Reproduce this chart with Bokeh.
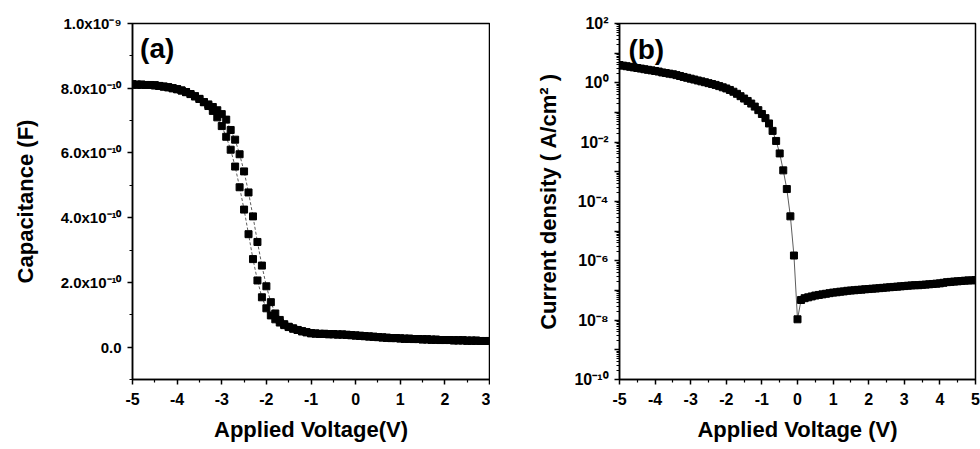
import numpy as np
from bokeh.plotting import figure
from bokeh.layouts import row
from bokeh.models import Range1d, FixedTicker, CustomJSTickFormatter, Label
from bokeh.embed import file_html
from bokeh.resources import INLINE

# ---------------- data: panel (a) C-V (capacitance in units of 1e-10 F) ----------------
volt_a = [round(-5.0 + 0.1 * i, 1) for i in range(81)]
cap_lower = [8.12, 8.11, 8.11, 8.10, 8.10, 8.09, 8.07, 8.05, 8.03, 8.00,
             7.97, 7.93, 7.88, 7.82, 7.75, 7.67, 7.57, 7.45, 7.30, 7.10,
             6.83, 6.50, 6.10, 5.58, 4.94, 4.25, 3.49, 2.72, 2.06, 1.54,
             1.20, 0.98, 0.86, 0.76, 0.68, 0.62, 0.57, 0.53, 0.49, 0.46,
             0.43, 0.42, 0.41, 0.41, 0.40, 0.40, 0.39, 0.39, 0.38, 0.37,
             0.36, 0.35, 0.34, 0.33, 0.32, 0.31, 0.30, 0.29, 0.28, 0.28,
             0.27, 0.26, 0.26, 0.25, 0.25, 0.24, 0.24, 0.23, 0.23, 0.22,
             0.22, 0.22, 0.21, 0.21, 0.21, 0.20, 0.20, 0.20, 0.19, 0.19, 0.19]
cap_upper = [8.12, 8.11, 8.11, 8.10, 8.10, 8.09, 8.07, 8.05, 8.03, 8.00,
             7.97, 7.93, 7.88, 7.82, 7.75, 7.67, 7.57, 7.50, 7.42, 7.32,
             7.20, 7.03, 6.71, 6.41, 5.96, 5.43, 4.78, 4.04, 3.25, 2.52,
             1.88, 1.39, 1.04, 0.84, 0.71, 0.63, 0.58, 0.53, 0.49, 0.46,
             0.43, 0.42, 0.41, 0.41, 0.40, 0.40, 0.39, 0.39, 0.38, 0.37,
             0.36, 0.35, 0.34, 0.33, 0.32, 0.31, 0.30, 0.29, 0.28, 0.28,
             0.27, 0.26, 0.26, 0.25, 0.25, 0.24, 0.24, 0.23, 0.23, 0.22,
             0.22, 0.22, 0.21, 0.21, 0.21, 0.20, 0.20, 0.20, 0.19, 0.19, 0.19]

# ---------------- data: panel (b) J-V (A/cm^2) ----------------
volt_b = [round(-5.0 + 0.1 * i, 1) for i in range(101)]
cur_density = [3.98, 3.80, 3.63, 3.47, 3.31, 3.16, 3.02, 2.88, 2.75, 2.63,
               2.51, 2.40, 2.24, 2.14, 2.04, 1.95, 1.82, 1.70, 1.58, 1.48,
               1.38, 1.29, 1.20, 1.12, 1.05, 0.977, 0.912, 0.851, 0.776, 0.708,
               0.646, 0.575, 0.501, 0.427, 0.355, 0.295, 0.245, 0.200, 0.158, 0.120,
               0.0891, 0.0646, 0.0427, 0.0240, 0.0110, 4.17e-3, 1.12e-3, 2.63e-4, 3.16e-5, 1.51e-6,
               1.07e-8, 4.79e-8, 5.50e-8, 5.89e-8, 6.31e-8, 6.76e-8, 7.08e-8, 7.41e-8, 7.76e-8, 8.13e-8,
               8.51e-8, 8.71e-8, 9.12e-8, 9.33e-8, 9.77e-8, 1.00e-7, 1.02e-7, 1.05e-7, 1.07e-7, 1.10e-7,
               1.12e-7, 1.15e-7, 1.17e-7, 1.20e-7, 1.23e-7, 1.26e-7, 1.29e-7, 1.32e-7, 1.35e-7, 1.38e-7,
               1.41e-7, 1.45e-7, 1.48e-7, 1.51e-7, 1.51e-7, 1.55e-7, 1.58e-7, 1.62e-7, 1.66e-7, 1.70e-7,
               1.74e-7, 1.82e-7, 1.91e-7, 1.95e-7, 2.00e-7, 2.04e-7, 2.09e-7, 2.14e-7, 2.19e-7, 2.19e-7,
               2.24e-7]

xticks_a = [-5, -4, -3, -2, -1, 0, 1, 2, 3]
yticks_a = [0.0, 2e-10, 4e-10, 6e-10, 8e-10, 1e-9]
xticks_b = [-5, -4, -3, -2, -1, 0, 1, 2, 3, 4, 5]
decades_b = list(range(-10, 3))

FONT = "Liberation Sans"

SUP_JS = """
const sup = {'-':'\u207b','0':'\u2070','1':'\u00b9','2':'\u00b2','3':'\u00b3','4':'\u2074',
             '5':'\u2075','6':'\u2076','7':'\u2077','8':'\u2078','9':'\u2079'};
function s(e) { return String(e).split('').map(c => sup[c]).join(''); }
"""

INT_FMT = CustomJSTickFormatter(code="return Math.round(tick).toString();")

def style(p):
    p.outline_line_color = "black"
    p.outline_line_width = 1.5
    p.grid.visible = False
    p.background_fill_color = "white"
    p.border_fill_color = "white"
    for ax in (p.xaxis[0], p.yaxis[0]):
        ax.axis_line_width = 1.5
        ax.axis_line_color = "black"
        ax.major_tick_line_width = 1.5
        ax.minor_tick_line_width = 1.2
        ax.major_tick_in = 0
        ax.major_tick_out = 5
        ax.minor_tick_in = 0
        ax.minor_tick_out = 3
        ax.major_label_text_font = FONT
        ax.major_label_text_font_style = "bold"
        ax.major_label_text_color = "black"
        ax.axis_label_text_font = FONT
        ax.axis_label_text_font_style = "bold"
        ax.axis_label_text_font_size = "22px"
        ax.axis_label_text_color = "black"
    p.xaxis.major_label_text_font_size = "16px"
    p.xaxis.major_label_standoff = 8
    p.xaxis.axis_label_standoff = 9
    p.xaxis.formatter = INT_FMT

# ---------------- panel (a) ----------------
pa = figure(width=490, height=449, output_backend="svg", toolbar_location=None,
            x_range=Range1d(-5, 3), y_range=Range1d(-1e-10, 1.0e-9),
            min_border_left=132, min_border_right=1, min_border_top=23, min_border_bottom=68)
style(pa)
cap_lo = np.array(cap_lower) * 1e-10
cap_up = np.array(cap_upper) * 1e-10
pa.line(volt_a, cap_lo, line_color="#333333", line_width=0.8, line_dash="3 2")
pa.line(volt_a, cap_up, line_color="#333333", line_width=0.8, line_dash="3 2")
pa.scatter(volt_a, cap_lo, marker="square", size=7, fill_color="black", line_color="black")
pa.scatter(volt_a, cap_up, marker="square", size=7, fill_color="black", line_color="black")
pa.xaxis.ticker = FixedTicker(ticks=xticks_a, minor_ticks=[v + 0.5 for v in xticks_a[:-1]])
pa.yaxis.ticker = FixedTicker(ticks=yticks_a, minor_ticks=[-1e-10, 1e-10, 3e-10, 5e-10, 7e-10, 9e-10])
pa.yaxis.formatter = CustomJSTickFormatter(code=SUP_JS + """
if (Math.abs(tick) < 1e-20) return "0.0";
const e = Math.floor(Math.log10(Math.abs(tick)) + 1e-9);
const m = tick / Math.pow(10, e);
return m.toFixed(1) + "x10" + s(e);
""")
pa.yaxis.major_label_text_font_size = "15px"
pa.yaxis.major_label_standoff = 6
pa.xaxis.axis_label = "Applied Voltage(V)"
pa.yaxis.axis_label = "Capacitance (F)"
pa.yaxis.axis_label_standoff = 20
pa.add_layout(Label(x=-4.83, y=9.72e-10, text="(a)", text_font=FONT, text_font_style="bold",
                    text_font_size="28px", text_baseline="top", text_color="black"))

# ---------------- panel (b) ----------------
pb = figure(width=490, height=449, output_backend="svg", toolbar_location=None,
            x_range=Range1d(-5, 5), y_range=Range1d(1e-10, 1e2), y_axis_type="log",
            min_border_left=129, min_border_right=5, min_border_top=22, min_border_bottom=70)
style(pb)
pb.line(volt_b, cur_density, line_color="#333333", line_width=0.8)
pb.scatter(volt_b, cur_density, marker="square", size=7, fill_color="black", line_color="black")
pb.xaxis.ticker = FixedTicker(ticks=xticks_b, minor_ticks=[v + 0.5 for v in xticks_b[:-1]])
major_b = [10.0 ** k for k in decades_b]
minor_b = [m * 10.0 ** k for k in decades_b[:-1] for m in range(2, 10)]
pb.yaxis.ticker = FixedTicker(ticks=major_b, minor_ticks=minor_b)
pb.yaxis.formatter = CustomJSTickFormatter(code=SUP_JS + """
const e = Math.round(Math.log10(tick));
if (e % 2 != 0) return "";
return "10" + s(e);
""")
pb.yaxis.major_label_text_font_size = "16px"
pb.yaxis.major_label_standoff = 6
pb.xaxis.axis_label = "Applied Voltage (V)"
pb.yaxis.axis_label = "Current density ( A/cm\u00b2 )"
pb.yaxis.axis_label_standoff = 10
pb.add_layout(Label(x=-4.75, y=45, text="(b)", text_font=FONT, text_font_style="bold",
                    text_font_size="28px", text_baseline="top", text_color="black"))

layout = row(pa, pb)
open("out.html", "w").write(file_html(layout, INLINE))
